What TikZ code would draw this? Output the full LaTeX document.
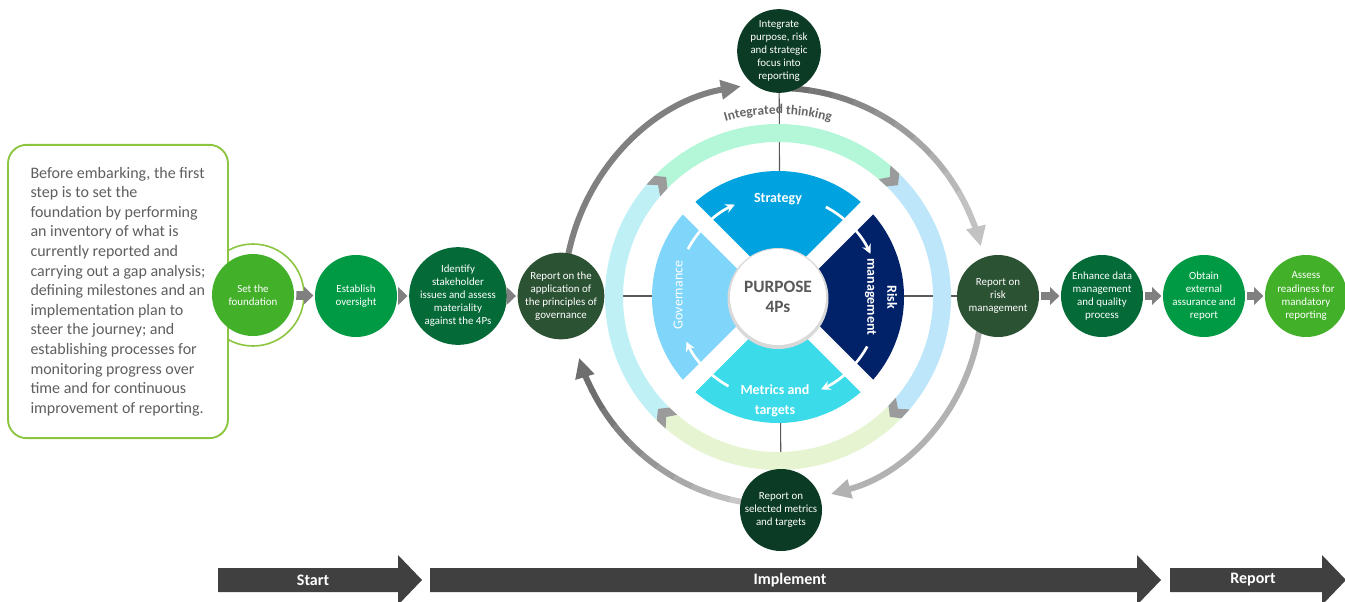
\documentclass[tikz,border=0pt]{standalone}
\usepackage{fontspec}
\setmainfont{Carlito}
\usetikzlibrary{arrows.meta}
\usetikzlibrary{decorations.text}
\usetikzlibrary{backgrounds}

\definecolor{lgreen}{HTML}{43B02A}
\definecolor{mgreen}{HTML}{009A44}
\definecolor{dgreen}{HTML}{046A38}
\definecolor{olive}{HTML}{2C5234}
\definecolor{vdgreen}{HTML}{0B3B24}
\definecolor{boxgreen}{HTML}{8CC640}
\definecolor{txtgrey}{HTML}{5F5F5F}
\definecolor{stratc}{HTML}{00A3E0}
\definecolor{riskc}{HTML}{012169}
\definecolor{metc}{HTML}{3CDBEA}
\definecolor{govc}{HTML}{7FD5FA}
\definecolor{ringtop}{HTML}{B3F7D8}
\definecolor{ringright}{HTML}{BDE6FA}
\definecolor{ringbot}{HTML}{E6F4D2}
\definecolor{ringleft}{HTML}{BFF0F6}
\definecolor{chevc}{HTML}{9B9B9B}
\definecolor{barc}{HTML}{404040}

\tikzset{
  stepnode/.style={circle, fill=#1, minimum size=61.5pt, inner sep=0pt, align=center, text=white, font=\fontsize{8.2}{9.8}\selectfont},
  steparrow/.style={-{Triangle[length=7pt,width=13pt]}, line width=6.5pt, draw=black!50, shorten <=1.5pt, shorten >=1pt},
  wheeltxt/.style={text=white, font=\bfseries\fontsize{10.5}{15}\selectfont, align=center},
  whitearc/.style={white, line width=2pt, -{Stealth[length=7pt,width=7pt]}},
  bigarc/.style={line width=4.5pt},
  phasetxt/.style={text=white, font=\bfseries\fontsize{12}{14}\selectfont},
}

\begin{document}
\begin{tikzpicture}[x=0.75pt,y=0.75pt]
\useasboundingbox (0,0) rectangle (1345,-601);

\begin{scope}[shift={(778,-297)}]
% outer arrows
\draw[bigarc, black!50, -{Triangle[length=15pt,width=14pt]}] (172:214) arc[start angle=172, end angle=100, radius=214];
\foreach \k in {0,...,9}{
  \pgfmathsetmacro\gv{57-33*\k/9}
  \draw[bigarc, black!\gv] ({88-6.4*\k}:209) arc[start angle={88-6.4*\k}, delta angle=-6.7, radius=209];
}
\draw[bigarc, black!24, -{Triangle[length=15pt,width=14pt]}] (24.3:209) arc[start angle=24.3, end angle=14, radius=209];
\draw[bigarc, black!30, -{Triangle[length=15pt,width=14pt]}] (-6:204) arc[start angle=-6, end angle=-75, radius=204];
\foreach \k in {0,...,9}{
  \pgfmathsetmacro\gv{22+35*\k/9}
  \draw[bigarc, black!\gv] ({262-5.5*\k}:208) arc[start angle={262-5.5*\k}, delta angle=-5.8, radius=208];
}
\draw[bigarc, black!57, -{Triangle[length=15pt,width=14pt]}] (207.2:208) arc[start angle=207.2, end angle=197, radius=208];

% ring of integrated thinking
\draw[ringtop, line width=13.5pt] (135:164) arc[start angle=135, end angle=45, radius=164];
\draw[ringright, line width=13.5pt] (45:164) arc[start angle=45, end angle=-45, radius=164];
\draw[ringbot, line width=13.5pt] (-45:164) arc[start angle=-45, end angle=-135, radius=164];
\draw[ringleft, line width=13.5pt] (225:164) arc[start angle=225, end angle=135, radius=164];
\foreach \a in {135,45,-45,-135}
  \fill[chevc] ({\a+4.5}:155) -- ({\a+2}:164) -- ({\a+4.5}:173) -- ({\a+0.5}:173) -- ({\a-2}:164) -- ({\a+0.5}:155) -- cycle;
\path[decorate, decoration={text along path, text align=center,
  text={|\bfseries\fontsize{10}{12}\selectfont\color{black!60}|Integrated thinking}}]
  (118:183) arc[start angle=118, end angle=62, radius=183];

% the 4Ps
\fill[stratc] (0,0) -- (45:126) arc[start angle=45, end angle=135, radius=126] -- cycle;
\fill[riskc] (0,0) -- (-45:126) arc[start angle=-45, end angle=45, radius=126] -- cycle;
\fill[metc] (0,0) -- (225:126) arc[start angle=225, end angle=315, radius=126] -- cycle;
\fill[govc] (0,0) -- (135:126) arc[start angle=135, end angle=225, radius=126] -- cycle;
\draw[white, line width=13pt] (45:135) -- (225:135) (135:135) -- (315:135);
\fill[black!15] (0,-1.5) circle[radius=50.5];
\fill[white] (0,0) circle[radius=48];
\node[text=black!65, font=\bfseries\fontsize{13}{15}\selectfont, align=center] (purpose) at (0,0) {PURPOSE\\4Ps};

\node[wheeltxt] (strat) at (0,98) {Strategy};
\node[wheeltxt, rotate=-90] (riskm) at (103,0) {Risk\\management};
\node[wheeltxt] (metr) at (-3,-104) {Metrics and\\targets};
\node[wheeltxt, font=\fontsize{10.5}{13}\selectfont, rotate=90] (gov) at (-100,2) {Governance};

\draw[whitearc] (152:102) arc[start angle=152, end angle=115, radius=102];
\draw[whitearc] (62:102) arc[start angle=62, end angle=25, radius=102];
\draw[whitearc] (-29:102) arc[start angle=-29, end angle=-65, radius=102];
\draw[whitearc] (241:102) arc[start angle=241, end angle=206, radius=102];
\end{scope}

% first step with its note
\draw[boxgreen, line width=1.2pt, fill=white] (253,-295) circle[radius=51];
\node[draw=boxgreen, line width=1.4pt, rounded corners=14pt, fill=white, minimum width=165pt, minimum height=220pt,
  align=left, text=txtgrey, font=\fontsize{12}{14.7}\selectfont] (intro) at (118,-291.5)
  {Before embarking, the first\\step is to set the\\foundation by performing\\an inventory of what is\\currently reported and\\carrying out a gap analysis;\\defining milestones and an\\implementation plan to\\steer the journey; and\\establishing processes for\\monitoring progress over\\time and for continuous\\improvement of reporting.};

\node[stepnode=lgreen] (found) at (253,-295) {Set the\\foundation};
\node[stepnode=mgreen] (est) at (356,-296) {Establish\\oversight};
\node[stepnode=dgreen] (ident) at (458,-296) {Identify\\stakeholder\\issues and assess\\materiality\\against the 4Ps};
\node[stepnode=olive] (appl) at (561,-296) {Report on the\\application of\\the principles of\\governance};
\node[stepnode=vdgreen] (integ) at (779,-51) {Integrate\\purpose, risk\\and strategic\\focus into\\reporting};
\node[stepnode=vdgreen] (sel) at (781,-510) {Report on\\selected metrics\\and targets};
\node[stepnode=olive] (riskrep) at (998,-296) {Report on\\risk\\management};
\node[stepnode=dgreen] (enh) at (1102,-296) {Enhance data\\management\\and quality\\process};
\node[stepnode=mgreen] (obt) at (1204,-296) {Obtain\\external\\assurance and\\report};
\node[stepnode=lgreen] (assess) at (1306,-296) {Assess\\readiness for\\mandatory\\reporting};

\draw[steparrow] (found) -- (est);
\draw[steparrow] (est) -- (ident);
\draw[steparrow] (ident) -- (appl);
\draw[steparrow] (riskrep) -- (enh);
\draw[steparrow] (enh) -- (obt);
\draw[steparrow] (obt) -- (assess);

\begin{pgfonlayer}{background}
\draw[black!65, line width=0.8pt] (integ) -- (sel);
\draw[black!65, line width=0.8pt] (appl) -- (riskrep);
\end{pgfonlayer}

% phases
\fill[barc] (218,-568) -- (398,-568) -- (398,-555) -- (422,-580) -- (398,-605) -- (398,-592) -- (218,-592) -- cycle;
\fill[barc] (430,-568) -- (1137,-568) -- (1137,-555) -- (1161,-580) -- (1137,-605) -- (1137,-592) -- (430,-592) -- cycle;
\fill[barc] (1170,-568) -- (1322,-568) -- (1322,-555) -- (1346,-580) -- (1322,-605) -- (1322,-592) -- (1170,-592) -- cycle;
\node[phasetxt] (start) at (313,-580) {Start};
\node[phasetxt] (impl) at (790,-580) {Implement};
\node[phasetxt] (report) at (1253,-580) {Report};
\end{tikzpicture}
\end{document}
